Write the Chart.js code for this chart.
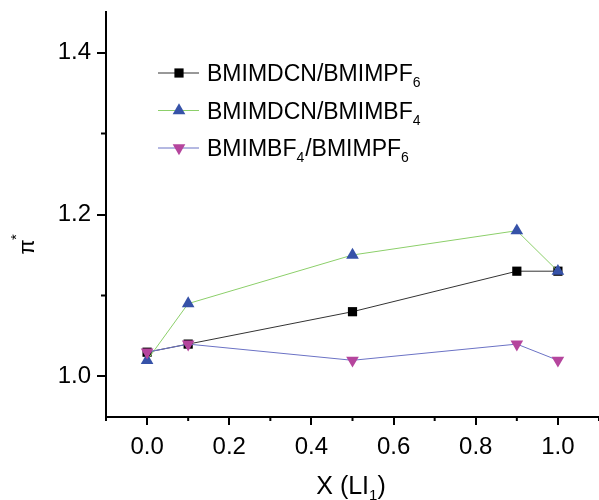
<!DOCTYPE html>
<html>
<head>
<meta charset="utf-8">
<script src="https://cdn.jsdelivr.net/npm/chart.js@4/dist/chart.umd.min.js"></script>
<style>
html,body{margin:0;padding:0;background:#fff;}
#wrap{width:599px;height:500px;}
</style>
</head>
<body>
<div id="wrap"><canvas id="chart" width="599" height="500"></canvas></div>
<script>
// data
const xVals=[0,0.1,0.5,0.9,1.0];
const pf6Dcn=[1.03,1.04,1.08,1.13,1.13];
const bf4Dcn=[1.02,1.09,1.15,1.18,1.13];
const bf4Pf6=[1.03,1.04,1.02,1.04,1.02];
const xTicks=[-0.1,0,0.1,0.2,0.3,0.4,0.5,0.6,0.7,0.8,0.9,1.0,1.1];
const yTicks=[1.0,1.1,1.2,1.3,1.4];
const legendNames=[['BMIMDCN/BMIMPF','6'],['BMIMDCN/BMIMBF','4'],['BMIMBF','4','/BMIMPF','6']];

const FONT='"Liberation Sans", Arial, sans-serif';
const pts=ys=>xVals.map((x,i)=>({x,y:ys[i]}));
const isMajor=v=>Math.abs(Math.round(v*10)%2)===0;

const series=[
  {data:pts(pf6Dcn),borderColor:'#333',pointBackgroundColor:'#000',pointStyle:'rect',rot:0,r:6.5},
  {data:pts(bf4Dcn),borderColor:'#8ccf6a',pointBackgroundColor:'#3652a8',pointStyle:'triangle',rot:0,r:7.3},
  {data:pts(bf4Pf6),borderColor:'#6b72c5',pointBackgroundColor:'#b5459d',pointStyle:'triangle',rot:180,r:7.3}
];

const extras={
  id:'extras',
  afterDraw(c){
    const g=c.ctx,xs=c.scales.x,ys=c.scales.y,a=c.chartArea;
    g.save();
    // minor ticks
    g.strokeStyle='#000';g.lineWidth=2;
    xTicks.filter(v=>!isMajor(v)).forEach(v=>{
      const px=xs.getPixelForValue(v);
      g.beginPath();g.moveTo(px,a.bottom);g.lineTo(px,a.bottom+4);g.stroke();
    });
    yTicks.filter(v=>!isMajor(v)).forEach(v=>{
      const py=ys.getPixelForValue(v);
      g.beginPath();g.moveTo(a.left,py);g.lineTo(a.left-5,py);g.stroke();
    });
    // legend
    g.textBaseline='alphabetic';
    series.forEach((s,i)=>{
      const y=73+i*37.5;
      g.strokeStyle=s.borderColor;g.lineWidth=1;
      g.beginPath();g.moveTo(158,y);g.lineTo(199,y);g.stroke();
      g.fillStyle=s.pointBackgroundColor;
      Chart.helpers.drawPoint(g,{pointStyle:s.pointStyle,radius:s.r,rotation:s.rot,borderWidth:0},179,y);
      let tx=207;const base=y+8;
      legendNames[i].forEach((t,k)=>{
        const sub=k%2===1;
        g.font=(sub?'14px ':'23px ')+FONT;g.fillStyle='#000';
        g.fillText(t,tx,sub?base+6:base);
        tx+=g.measureText(t).width+(sub?1:0);
      });
    });
    // x title
    g.fillStyle='#000';
    g.font='25px '+FONT;
    const t1='X (LI',t2=')';
    let w1=g.measureText(t1).width;g.font='15px '+FONT;const ws=g.measureText('1').width;
    g.font='25px '+FONT;const w2=g.measureText(t2).width;
    let sx=351-(w1+ws+w2)/2;
    g.fillText(t1,sx,494);
    g.font='15px '+FONT;g.fillText('1',sx+w1,500);
    g.font='25px '+FONT;g.fillText(t2,sx+w1+ws,494);
    // y title
    g.translate(34,247);g.rotate(-Math.PI/2);
    g.font='22px '+FONT;g.textAlign='center';
    g.fillText('\u03c0',0,0);
    g.font='15px '+FONT;g.fillText('*',10,-13);
    g.restore();
  }
};

new Chart(document.getElementById('chart'),{
  type:'scatter',
  data:{datasets:series.map((s,i)=>({data:s.data,showLine:true,order:2-i,borderColor:s.borderColor,borderWidth:1,
    pointBackgroundColor:s.pointBackgroundColor,pointBorderWidth:0,pointStyle:s.pointStyle,pointRotation:s.rot,pointRadius:s.r}))},
  options:{
    responsive:false,animation:false,
    layout:{autoPadding:false,padding:{top:12,right:0,left:0,bottom:0}},
    plugins:{legend:{display:false},tooltip:{enabled:false}},
    scales:{
      x:{type:'linear',min:-0.1,max:1.1,
        afterBuildTicks:s=>{s.ticks=xTicks.map(v=>({value:v}));},
        afterFit:s=>{s.height=83;s.paddingLeft=0;s.paddingRight=0;},
        border:{color:'#000',width:2},
        grid:{drawOnChartArea:false,tickLength:8,lineWidth:2,tickColor:c=>isMajor(c.tick.value)?'#000':'rgba(0,0,0,0)'},
        ticks:{autoSkip:false,maxRotation:0,color:'#000',padding:8,font:{family:FONT,size:24},
          callback:v=>isMajor(v)?v.toFixed(1):''}},
      y:{type:'linear',min:0.95,max:1.45,
        afterBuildTicks:s=>{s.ticks=yTicks.map(v=>({value:v}));},
        afterFit:s=>{s.width=106;s.paddingTop=0;s.paddingBottom=0;},
        border:{color:'#000',width:2},
        grid:{drawOnChartArea:false,tickLength:9,lineWidth:2,tickColor:c=>isMajor(c.tick.value)?'#000':'rgba(0,0,0,0)'},
        ticks:{autoSkip:false,color:'#000',padding:6,font:{family:FONT,size:24},
          callback:v=>isMajor(v)?v.toFixed(1):''}}
    }
  },
  plugins:[extras]
});
</script>
</body>
</html>
